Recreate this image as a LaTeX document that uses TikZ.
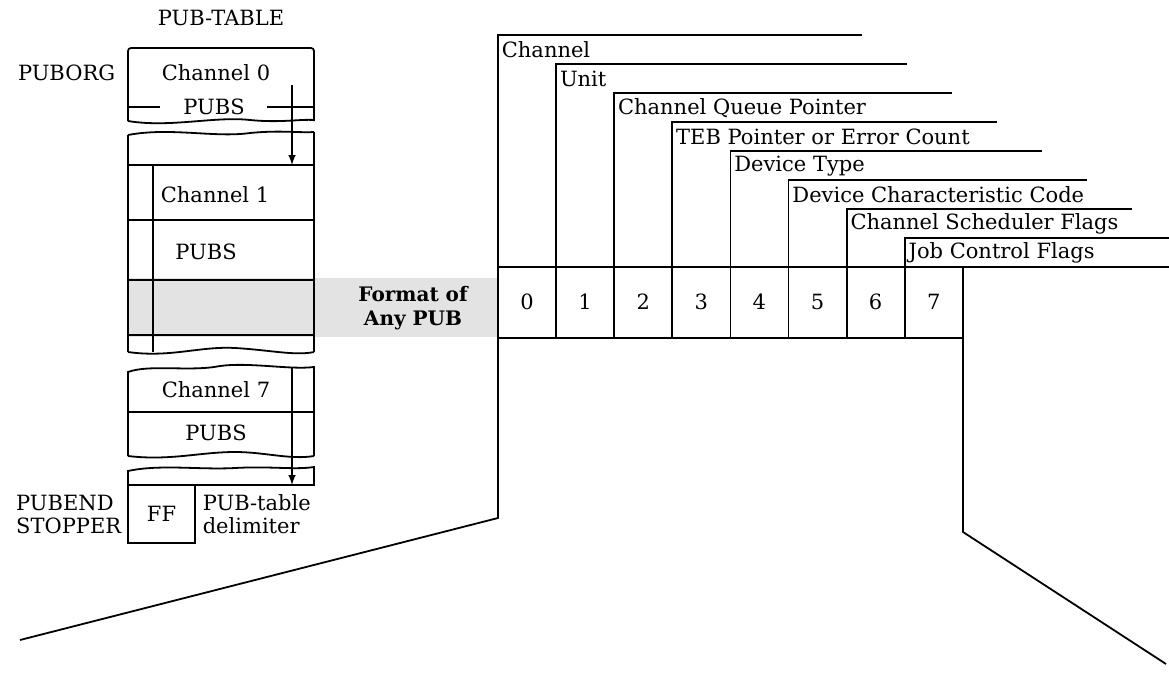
\documentclass[tikz,border=0pt]{standalone}
\usepackage{fontspec}
\setmainfont{DejaVu Serif}
\usetikzlibrary{positioning}

\begin{document}
\begin{tikzpicture}[
    x=1pt, y=-1pt,
    line width=1.8pt,
    txt/.style={font=\fontsize{21}{23}\selectfont, inner sep=0pt},
    field/.style={txt, anchor=west},
    rule/.style={line width=2.6pt},
    ptr/.style={line width=2.4pt, ->, >=latex},
    shade/.style={fill=gray!22},
    fmt/.style={font=\bfseries\fontsize{20}{24}\selectfont, align=center, inner sep=0pt}
]
\useasboundingbox (0,0) rectangle (1169,672);

% shaded band (format of any PUB)
\fill[shade] (128,278) rectangle (498,337);

% PUB-table
\node[txt] (title) at (221,18) {PUB-TABLE};
\node[txt, anchor=east] (puborg) at (116,73) {PUBORG};

% Channel 0 block
\draw[rounded corners=3pt] (128,121) -- (128,48) -- (314,48) -- (314,121);
\draw (128,121) .. controls (170,128) and (215,116) .. (250,120) .. controls (280,123) and (300,119) .. (314,120);
\node[txt] (ch0) at (216,73) {Channel 0};
\node[txt] (pubs0) at (214,107) {PUBS};
\draw (128,107) -- (160,107);
\draw (267,107) -- (314,107);

% Channel 1 block
\draw (128,135) .. controls (170,127) and (215,138) .. (250,133) .. controls (280,130) and (300,133) .. (314,132);
\draw (128,135) -- (128,352);
\draw (314,132) -- (314,352);
\draw (128,165) -- (314,165);
\draw[rule] (153,165) -- (153,352);
\node[txt, anchor=west] (ch1) at (160,195) {Channel 1};
\draw (128,220) -- (314,220);
\node[txt] (pubs1) at (206,252) {PUBS};
\draw[rule] (128,280) -- (314,280);
\draw[rule] (128,335) -- (314,335);
\draw (128,352) .. controls (170,358) and (200,346) .. (235,348) .. controls (270,350) and (295,356) .. (314,352);

% Channel 7 block
\draw (128,456) -- (128,372) .. controls (150,364) and (190,372) .. (220,366) .. controls (250,362) and (290,370) .. (314,367) -- (314,456);
\draw (128,412) -- (314,412);
\node[txt] (ch7) at (216,390) {Channel 7};
\node[txt] (pubs7) at (216,433) {PUBS};
\draw (128,456) .. controls (170,461) and (200,452) .. (235,452) .. controls (265,452) and (290,460) .. (314,456);

% stopper
\draw (128,485) -- (128,471) .. controls (160,464) and (200,470) .. (235,468) .. controls (270,466) and (295,470) .. (314,467) -- (314,485) -- cycle;
\node[txt, draw, line width=1.8pt, minimum width=67pt, minimum height=58pt] (ff) at (161.5,514) {FF};
\node[txt, align=left, right=6pt of ff] (delim) {PUB-table\\delimiter};
\node[txt, align=left, left=5pt of ff] (pubend) {PUBEND\\STOPPER};

% pointers
\coordinate (p0) at (292,85);
\coordinate (p1) at (292,165);
\draw[ptr] (p0) -- (p1);
\coordinate (p7) at (292,367);
\coordinate (pe) at (292,485);
\draw[ptr] (p7) -- (pe);

\node[fmt] (fmt) at (413,308) {Format of\\Any PUB};

% fields of a PUB
\foreach \i/\lab in {0/Channel, 1/Unit, 2/Channel Queue Pointer, 3/TEB Pointer or Error Count,
    4/Device Type, 5/Device Characteristic Code, 6/Channel Scheduler Flags, 7/Job Control Flags} {
  \pgfmathsetmacro\xl{498+58.1*\i}
  \pgfmathsetmacro\yt{35+29*\i}
  \pgfmathsetmacro\xe{min(862+45*\i,1169)}
  \draw (\xl,338) -- (\xl,\yt) -- (\xe,\yt);
  \node[field] (f\i) at (\xl+3,\yt+15) {\lab};
  \node[txt] (c\i) at (\xl+29,302) {\i};
}
\draw (498,267) -- (1169,267);
\draw (498,338) -- (963,338);

% outline below
\draw (498,338) -- (498,518) -- (20,640);
\draw (963,267) -- (963,532) -- (1166,664);

\end{tikzpicture}
\end{document}
